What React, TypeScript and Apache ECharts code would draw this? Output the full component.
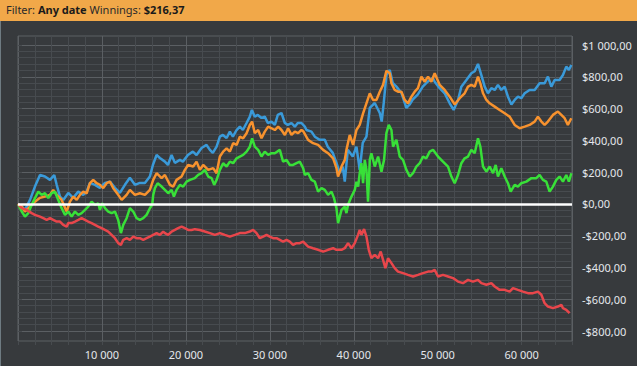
import React, { useEffect, useRef } from 'react';
import * as echarts from 'echarts';

// [hands, winnings $]
const blueLine: [number, number][] = [
  [0, 0], [500, -20], [830, -38], [1430, 25], [2020, 109], [2620, 182], [3210, 172], [3810, 151], [4320, 182], [4610, 120],
  [5000, 46], [5390, 25], [5990, 69], [6580, 38], [7180, 77], [7770, 57], [8180, 77], [8570, 132], [9170, 120], [9760, 101],
  [10360, 132], [10950, 140], [11550, 101], [12140, 69], [12740, 120], [13330, 164], [13930, 120], [14520, 132], [15120, 132], [15710, 172],
  [16070, 245], [16510, 308], [16900, 289], [17500, 266], [17860, 245], [18300, 308], [18690, 258], [19290, 277], [19640, 266], [20240, 308],
  [20830, 329], [21270, 308], [21870, 352], [22460, 371], [22860, 340], [23210, 321], [23660, 360], [24050, 423], [24410, 434], [24850, 415],
  [25240, 455], [25600, 423], [26040, 465], [26430, 486], [26790, 465], [27230, 509], [27620, 549], [27860, 591], [28210, 549], [28570, 560],
  [29010, 541], [29400, 549], [29760, 509], [30200, 518], [30600, 497], [30950, 560], [31390, 572], [31790, 509], [32140, 497], [32580, 509],
  [32980, 486], [33330, 509], [33770, 509], [34170, 486], [34370, 465], [34960, 455], [35360, 423], [35950, 403], [36550, 403], [36900, 360],
  [37500, 321], [37940, 258], [38330, 195], [38690, 235], [38930, 140], [39290, 340], [39880, 298], [40320, 360], [40710, 214], [41070, 384],
  [41510, 423], [41910, 604], [42500, 635], [43100, 572], [43330, 518], [43570, 635], [43890, 811], [44290, 843], [44640, 761], [45080, 738],
  [45680, 698], [46270, 604], [46670, 626], [47020, 657], [47620, 688], [48220, 738], [48810, 769], [49410, 793], [49640, 769], [50240, 728],
  [50830, 696], [51430, 633], [51900, 591], [52420, 654], [52820, 738], [53420, 780], [54010, 822], [54410, 835], [54800, 881], [55200, 811],
  [55600, 738], [55990, 696], [56390, 728], [56790, 717], [57180, 749], [57580, 717], [57980, 738], [58370, 675], [58780, 626], [59170, 654],
  [59560, 675], [59960, 665], [60360, 696], [60950, 717], [61550, 717], [62140, 759], [62740, 759], [63130, 801], [63540, 738], [63930, 780],
  [64520, 780], [64920, 811], [65320, 864], [65630, 843], [65920, 874],
];

const orangeLine: [number, number][] = [
  [0, 0], [440, -17], [830, -48], [1430, -17], [2020, 14], [2620, 38], [3210, 46], [3810, 57], [4200, 88], [4610, 57],
  [5200, 25], [5600, -25], [5800, -48], [6190, 14], [6580, 46], [6990, 25], [7380, 57], [7770, 77], [8180, 67], [8570, 130],
  [8960, 151], [9370, 130], [9760, 120], [10150, 99], [10560, 130], [10950, 140], [11350, 99], [11940, 57], [12350, 25], [12940, 57],
  [13330, 88], [13930, 57], [14520, 67], [15120, 57], [15710, 88], [16110, 151], [16510, 193], [17110, 162], [17500, 182], [18100, 120],
  [18490, 109], [18890, 151], [19490, 172], [19880, 214], [20270, 245], [20870, 235], [21270, 266], [21670, 214], [22060, 245], [22660, 214],
  [23250, 225], [23660, 193], [24050, 298], [24440, 329], [24850, 350], [25240, 329], [25630, 382], [26040, 371], [26430, 423], [26820, 413],
  [27230, 445], [27620, 497], [27890, 518], [28210, 445], [28610, 465], [29010, 413], [29400, 455], [29800, 486], [30200, 476], [30600, 465],
  [30990, 486], [31390, 465], [31790, 434], [32180, 476], [32580, 434], [32980, 455], [33370, 445], [33770, 465], [34010, 455], [34560, 403],
  [35150, 382], [35750, 371], [36350, 340], [36940, 319], [37540, 287], [37940, 225], [38130, 172], [38540, 235], [38930, 277], [39130, 340],
  [39520, 434], [39920, 371], [40320, 465], [40710, 497], [41110, 570], [41510, 633], [41910, 696], [42300, 654], [42700, 654], [43100, 706],
  [43490, 749], [43890, 838], [44290, 822], [44490, 759], [44880, 717], [45270, 706], [45680, 706], [46070, 654], [46460, 633], [46870, 675],
  [47260, 706], [47650, 728], [48060, 801], [48450, 769], [48850, 801], [49250, 769], [49640, 822], [50240, 749], [50830, 717], [51430, 675],
  [52020, 626], [52620, 665], [53210, 696], [53610, 738], [54010, 749], [54410, 738], [54800, 801], [55080, 759], [55400, 696], [55800, 654],
  [56190, 633], [56790, 612], [57380, 591], [57980, 570], [58570, 549], [59170, 497], [59760, 476], [60360, 486], [60950, 497], [61550, 518],
  [61940, 549], [62350, 518], [62740, 497], [63130, 518], [63730, 560], [64320, 581], [64730, 560], [65120, 539], [65510, 497], [65920, 539],
];

const greenLine: [number, number][] = [
  [0, 0], [440, -48], [830, -80], [1230, -58], [1630, -6], [2020, 36], [2420, 77], [2820, 57], [3210, 67], [3610, 36],
  [4010, 67], [4400, 77], [4800, 25], [5200, -27], [5600, -69], [5990, -48], [6390, -80], [6790, -48], [7180, -69], [7580, -58],
  [7980, -38], [8370, -17], [8770, 14], [9170, -6], [9560, 4], [9760, -38], [10040, 4], [10360, -27], [10750, -48], [11150, -58],
  [11550, -48], [11940, -101], [12260, -184], [12540, -132], [12940, -90], [13330, -27], [13730, -48], [14130, -90], [14520, -101], [14920, -90],
  [15320, -69], [15710, -27], [15990, -6], [16110, 57], [16310, 99], [16630, 130], [17110, 109], [17500, 88], [17890, 67], [18300, 88],
  [18570, 46], [18890, 88], [19290, 120], [19680, 109], [20080, 140], [20480, 151], [21070, 162], [21460, 182], [21870, 193], [22260, 214],
  [22660, 172], [23060, 162], [23370, 120], [23660, 151], [24050, 214], [24440, 256], [24850, 235], [25240, 266], [25630, 256], [26040, 287],
  [26430, 298], [26820, 308], [27230, 329], [27620, 360], [27890, 413], [28210, 360], [28610, 340], [29010, 298], [29400, 329], [29800, 308],
  [30200, 319], [30600, 319], [31190, 340], [31580, 266], [31990, 277], [32380, 245], [32770, 245], [33180, 256], [33570, 266], [33970, 225],
  [34170, 182], [34560, 193], [34960, 151], [35360, 140], [35750, 77], [36160, 99], [36550, 88], [36940, 57], [37350, 77], [37650, 36],
  [37940, -27], [38130, -121], [38540, -38], [38930, -17], [39130, -58], [39320, -6], [39730, 46], [40120, 88], [40320, 140], [40520, 109],
  [40710, 193], [40910, 256], [41110, 130], [41310, 277], [41510, 214], [41700, 14], [41910, 277], [42100, 319], [42500, 235], [42900, 298],
  [43300, 203], [43610, 277], [43890, 445], [44170, 497], [44490, 465], [44680, 360], [45080, 403], [45480, 298], [45870, 277], [46270, 214],
  [46670, 172], [47060, 193], [47460, 235], [47860, 256], [48250, 298], [48650, 287], [49050, 329], [49440, 340], [50040, 298], [50630, 266],
  [51230, 235], [51630, 172], [52020, 130], [52420, 182], [52820, 256], [53210, 287], [53610, 298], [54010, 340], [54410, 319], [54800, 413],
  [55080, 360], [55400, 235], [55800, 203], [56190, 235], [56590, 193], [56910, 245], [57180, 172], [57580, 225], [57980, 172], [58370, 130],
  [58690, 77], [59170, 120], [59560, 109], [59960, 130], [60560, 140], [61160, 162], [61750, 162], [62140, 182], [62540, 151], [62940, 140],
  [63330, 77], [63730, 109], [64130, 151], [64520, 172], [64920, 140], [65320, 182], [65630, 140], [65920, 193],
];

const redLine: [number, number][] = [
  [0, 0], [440, -27], [1040, -38], [1630, -58], [2020, -69], [2620, -80], [3010, -90], [3420, -101], [3810, -90], [4200, -101],
  [4610, -111], [5000, -111], [5390, -132], [5800, -143], [5990, -121], [6390, -121], [6790, -111], [7180, -101], [7580, -90], [7980, -101],
  [8370, -111], [8770, -121], [9170, -132], [9560, -143], [9960, -153], [10360, -164], [10750, -174], [11150, -195], [11550, -216], [11940, -247],
  [12260, -258], [12540, -226], [12940, -216], [13330, -226], [13730, -206], [14130, -216], [14520, -216], [14920, -226], [15320, -216], [15710, -206],
  [16110, -195], [16510, -184], [16900, -195], [17300, -174], [17500, -184], [17890, -195], [18300, -174], [18690, -164], [19080, -153], [19490, -143],
  [19880, -153], [20270, -164], [20680, -164], [21070, -159], [21670, -164], [22260, -174], [22860, -184], [23450, -195], [24050, -184], [24640, -195],
  [25240, -206], [25840, -195], [26430, -184], [27020, -184], [27620, -174], [28010, -164], [28420, -184], [28810, -216], [29200, -206], [29610, -195],
  [30000, -206], [30390, -216], [30800, -216], [31190, -226], [31580, -237], [31990, -226], [32380, -237], [32770, -258], [33180, -247], [33570, -247],
  [33970, -237], [34560, -269], [35150, -279], [35750, -289], [36350, -300], [36940, -289], [37540, -279], [37940, -289], [38540, -289], [38930, -279],
  [39320, -247], [39730, -279], [40120, -247], [40510, -195], [40710, -164], [40910, -195], [41230, -159], [41510, -206], [41790, -289], [42100, -342],
  [42500, -321], [42900, -342], [43210, -300], [43490, -352], [43770, -404], [44080, -342], [44490, -373], [44880, -404], [45270, -426], [45870, -436],
  [46460, -447], [47060, -457], [47650, -447], [48250, -436], [48850, -426], [49250, -426], [49640, -415], [50040, -457], [50630, -447], [51230, -457],
  [51820, -467], [52420, -489], [53010, -499], [53610, -478], [54200, -489], [54800, -478], [55200, -499], [55800, -509], [56390, -499], [56790, -520],
  [57380, -541], [57980, -541], [58570, -552], [58970, -530], [59560, -541], [60160, -552], [60750, -562], [61350, -562], [61940, -552], [62350, -572],
  [62740, -625], [63130, -646], [63730, -656], [64320, -646], [64730, -635], [64920, -656], [65320, -667], [65710, -688],
];

const headerParts = { filterLabel: 'Filter: ', filterValue: 'Any date', winLabel: ' Winnings: ', winValue: '$216,37' };
const handsMax = 66000;
const moneyMin = -800;
const moneyMax = 1000;

const FONT = '"Noto Sans", "Open Sans", sans-serif';
const LABEL_COLOR = '#e4e7ec';
const MINOR = '#474b4f';
const MAJOR = '#5b5f63';

function groupThousands(n: number): string {
  return String(n).replace(/\B(?=(\d{3})+(?!\d))/g, ' ');
}
function money(v: number): string {
  const a = Math.abs(Math.round(v));
  return (v < 0 ? '-$' : '$') + groupThousands(a) + ',00';
}

export default function App() {
  const ref = useRef<HTMLDivElement>(null);
  useEffect(() => {
    if (!ref.current) return;
    const chart = echarts.init(ref.current, undefined, { renderer: 'svg' });
    const mk = (name: string, data: [number, number][], color: string, extra: any = {}) => ({
      name,
      type: 'line',
      xAxisIndex: 2,
      yAxisIndex: 1,
      data,
      showSymbol: false,
      symbol: 'none',
      lineStyle: { color, width: 2.5 },
      itemStyle: { color },
      ...extra,
    });
    chart.setOption({
      animation: false,
      backgroundColor: '#373a3d',
      grid: [
        { left: 18, right: 65, top: 36, bottom: 25, show: true, borderColor: '#5d6165', borderWidth: 1, backgroundColor: 'transparent' },
        { left: 18, right: 65, top: 45, bottom: 35 },
      ],
      xAxis: [
        {
          type: 'value', gridIndex: 0, min: 0, max: handsMax, interval: 2000, position: 'bottom',
          axisLine: { show: false },
          axisTick: { show: true, length: 4, lineStyle: { color: MINOR } },
          axisLabel: {
            interval: 0, margin: 8, color: LABEL_COLOR, fontSize: 11, fontFamily: FONT,
            formatter: (v: number) => (v > 0 && v % 10000 === 0 ? groupThousands(v) : ''),
          },
          splitLine: { show: true, lineStyle: { color: MINOR, width: 1 } },
        },
        {
          type: 'value', gridIndex: 0, min: 0, max: handsMax, interval: 10000,
          axisLine: { show: false }, axisTick: { show: false }, axisLabel: { show: false },
          splitLine: { show: true, lineStyle: { color: MAJOR, width: 1 } },
        },
        { type: 'value', gridIndex: 1, min: 0, max: handsMax, show: false },
      ],
      yAxis: [
        { type: 'value', gridIndex: 0, min: 0, max: 1, show: false },
        {
          type: 'value', gridIndex: 1, min: moneyMin, max: moneyMax, interval: 40, position: 'right',
          axisLine: { show: false },
          axisTick: { show: true, length: 4, lineStyle: { color: MINOR } },
          axisLabel: {
            interval: 0, margin: 10, color: LABEL_COLOR, fontSize: 11, fontFamily: FONT,
            formatter: (v: number) => (Math.abs(v % 200) < 1e-6 ? money(v) : ''),
          },
          splitLine: { show: true, lineStyle: { color: MINOR, width: 1 } },
        },
        {
          type: 'value', gridIndex: 1, min: moneyMin, max: moneyMax, interval: 200,
          axisLine: { show: false }, axisTick: { show: false }, axisLabel: { show: false },
          splitLine: { show: true, lineStyle: { color: MAJOR, width: 1 } },
        },
      ],
      series: [
        mk('Blue', blueLine, '#3a9ad9'),
        mk('Orange', orangeLine, '#f7922e'),
        mk('Green', greenLine, '#38e038'),
        mk('Red', redLine, '#e8464b', {
          markLine: {
            silent: true,
            symbol: ['none', 'none'],
            label: { show: false },
            lineStyle: { color: '#ffffff', width: 2.5, type: 'solid' },
            data: [{ yAxis: 0 }],
          },
        }),
      ],
      graphic: [
        { type: 'rect', left: 0, top: 0, shape: { width: 637, height: 21 }, style: { fill: '#f1a849' }, z: 10 },
        { type: 'rect', left: 0, top: 21, shape: { width: 1, height: 345 }, style: { fill: '#6e7b82' }, z: 10 },
        {
          type: 'text', left: 6, top: 4, z: 11,
          style: {
            text: `{a|${headerParts.filterLabel}}{b|${headerParts.filterValue}}{a|${headerParts.winLabel}}{b|${headerParts.winValue}}`,
            rich: {
              a: { fontSize: 11, fontFamily: FONT, fill: '#2a2a2a', fontWeight: 'normal' },
              b: { fontSize: 11, fontFamily: FONT, fill: '#1a1a1a', fontWeight: 'bold' },
            },
          },
        },
      ],
    });
    return () => chart.dispose();
  }, []);
  return <div ref={ref} style={{ position: 'fixed', left: 0, top: 0, width: 637, height: 366 }} />;
}
